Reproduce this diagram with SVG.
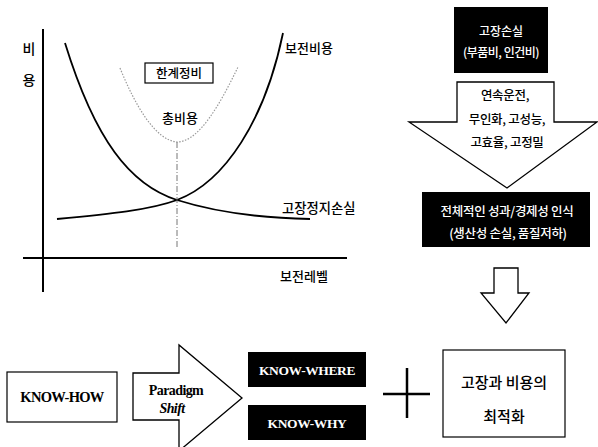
<svg xmlns="http://www.w3.org/2000/svg" width="598" height="447" viewBox="0 0 598 447">
<style>
.ko{font-family:"Noto Sans CJK KR","Noto Sans",sans-serif;fill:#000;font-weight:500}
.kw{font-family:"Noto Sans CJK KR","Noto Sans",sans-serif;fill:#fff;font-weight:500}
.en{font-family:"Liberation Serif","Times New Roman",serif;font-weight:bold}
.ax{stroke:#000;stroke-width:2;fill:none}
.cv{stroke:#000;stroke-width:1.8;fill:none}
.blk{fill:#000}
.box{fill:#fff;stroke:#000;stroke-width:1.2}
.arr{fill:#fff;stroke:#000;stroke-width:1.3;stroke-linejoin:miter}
</style>
<rect width="598" height="447" fill="#fff"/>

<g id="chart">
  <line class="ax" x1="43" y1="29" x2="43" y2="292"/>
  <line class="ax" x1="23" y1="258" x2="347" y2="258"/>
  <text class="ko" x="29" y="54" font-size="14" text-anchor="middle">비</text>
  <text class="ko" x="29" y="85" font-size="14" text-anchor="middle">용</text>
  <path class="cv" d="M65,43 C95,140 130,185 177,200 C215,212 260,218 310,219"/>
  <path class="cv" d="M57,219 C110,214 150,210 177,200 C225,182 265,120 283,33"/>
  <path d="M120,68 C135,105 155,140 177,142 C200,142 222,100 238,67" fill="none" stroke="#9a9a9a" stroke-width="1.2" stroke-dasharray="1.5,1.5"/>
  <line x1="177" y1="142" x2="177" y2="248" stroke="#666" stroke-width="0.9" stroke-dasharray="6,2,1,2"/>
  <text class="ko" x="285" y="53" font-size="13">보전비용</text>
  <text class="ko" x="282" y="213" font-size="13.3">고장정지손실</text>
  <text class="ko" x="280" y="281" font-size="13">보전레벨</text>
  <text class="ko" x="180" y="123" font-size="13" text-anchor="middle">총비용</text>
</g>

<g id="limit-box">
  <rect class="box" x="145" y="63" width="68" height="20"/>
  <text class="ko" x="179" y="78" font-size="12.5" text-anchor="middle">한계정비</text>
</g>

<g id="failure-loss">
  <rect class="blk" x="454" y="7" width="94" height="66"/>
  <text class="kw" x="501" y="36" font-size="12" text-anchor="middle">고장손실</text>
  <text class="kw" x="501" y="57" font-size="12" text-anchor="middle" letter-spacing="-0.5">(부품비, 인건비)</text>
</g>

<g id="overall-recognition">
  <rect class="blk" x="422" y="192" width="168" height="55"/>
  <text class="kw" x="507" y="216" font-size="12.5" text-anchor="middle" letter-spacing="-0.3">전체적인 성과/경제성 인식</text>
  <text class="kw" x="508" y="238" font-size="12.5" text-anchor="middle" letter-spacing="-0.3">(생산성 손실, 품질저하)</text>
</g>

<g id="know-how">
  <rect class="box" x="7" y="372" width="110" height="50"/>
  <text class="en" x="62" y="402" font-size="14.5" text-anchor="middle" letter-spacing="-0.7">KNOW-HOW</text>
</g>

<g id="know-where">
  <rect class="blk" x="248" y="352" width="118" height="35"/>
  <text class="en" x="307" y="375" font-size="13.5" text-anchor="middle" fill="#fff" letter-spacing="-0.4">KNOW-WHERE</text>
</g>

<g id="know-why">
  <rect class="blk" x="248" y="405" width="118" height="35"/>
  <text class="en" x="307" y="428" font-size="13.5" text-anchor="middle" fill="#fff" letter-spacing="-0.4">KNOW-WHY</text>
</g>

<g id="plus">
  <line x1="383" y1="394" x2="430" y2="394" stroke="#000" stroke-width="2.5"/>
  <line x1="407" y1="368" x2="407" y2="418" stroke="#000" stroke-width="2.5"/>
</g>

<g id="optimization">
  <rect class="box" x="443" y="350" width="122" height="87"/>
  <text class="ko" x="504" y="388" font-size="15" text-anchor="middle">고장과 비용의</text>
  <text class="ko" x="504" y="422" font-size="15" text-anchor="middle">최적화</text>
</g>

<g id="connectors">
  <g id="big-arrow">
    <polygon class="arr" points="457,82 554,82 554,122 597,122 507,188 409,122 457,122"/>
    <text class="ko" x="505" y="100" font-size="12.5" text-anchor="middle" letter-spacing="-0.3">연속운전,</text>
    <text class="ko" x="507" y="124" font-size="12.5" text-anchor="middle" letter-spacing="-0.3">무인화, 고성능,</text>
    <text class="ko" x="507" y="147" font-size="12.5" text-anchor="middle" letter-spacing="-0.3">고효율, 고정밀</text>
  </g>
  <polygon id="small-arrow" class="arr" points="494,268 518,268 518,293 529,293 506,323 481,293 494,293"/>
  <g id="paradigm-arrow">
    <polygon class="arr" points="133,373 179,373 179,345 242,398 179,451 179,420 133,420"/>
    <text class="en" x="176" y="395" font-size="14" text-anchor="middle" letter-spacing="-0.6">Paradigm</text>
    <text class="en" x="172" y="413" font-size="14" text-anchor="middle" font-style="italic" letter-spacing="-0.6">Shift</text>
  </g>
</g>
</svg>
